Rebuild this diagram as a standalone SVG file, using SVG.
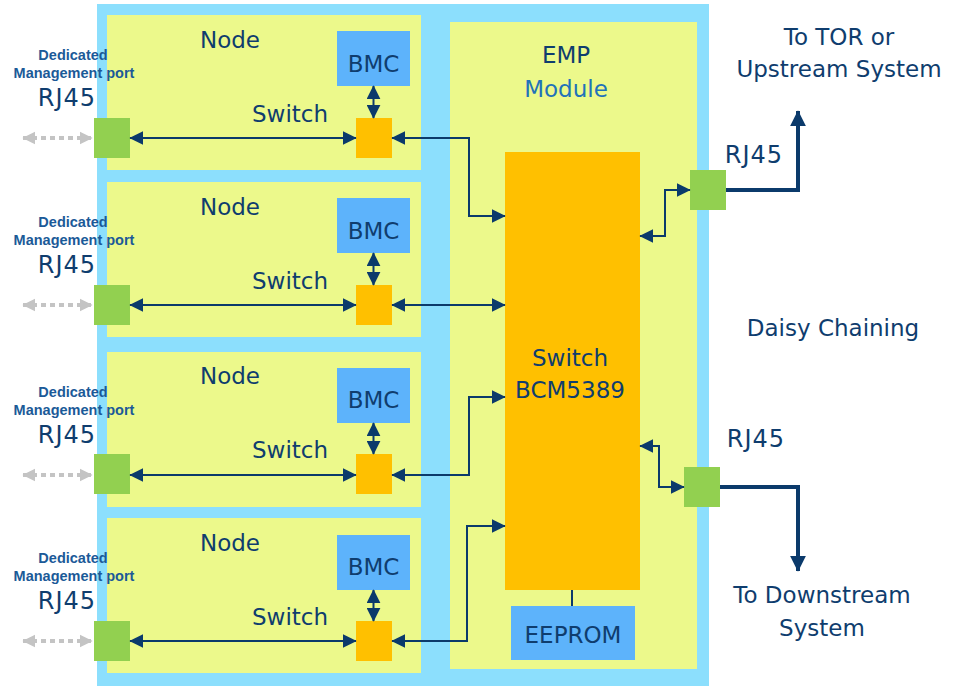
<svg xmlns="http://www.w3.org/2000/svg" width="953" height="687" viewBox="0 0 953 687">
<style>
.t{font-family:"DejaVu Sans","Noto Sans",sans-serif;font-size:23px;fill:#0F3D6E;text-anchor:middle}
.rjl{font-size:24px;letter-spacing:1px}
.ded{font-family:"Liberation Sans",Arial,sans-serif;font-size:14.5px;font-weight:bold;fill:#1B5A98;text-anchor:middle}
.mod{fill:#2272B9}
.outer{fill:#8CDFFD}
.yel{fill:#ECF98B}
.bmc{fill:#5DB3FB}
.sw{fill:#FFC000}
.rj{fill:#92D050}
.c{fill:none;stroke:#0B3A6B;stroke-width:2;marker-start:url(#ah);marker-end:url(#ah)}
.thick{fill:none;stroke:#0B3A6B;stroke-width:4;marker-end:url(#aht)}
.grey{fill:none;stroke:#C4C4C4;stroke-width:4;stroke-dasharray:5 4;marker-start:url(#ahg);marker-end:url(#ahg)}
</style>
<defs>
<marker id="ah" viewBox="0 0 10 10" refX="9.5" refY="5" markerWidth="14" markerHeight="14" markerUnits="userSpaceOnUse" orient="auto-start-reverse"><path d="M0,0 L10,5 L0,10 z" fill="#0B3A6B"/></marker>
<marker id="aht" viewBox="0 0 10 10" refX="9.5" refY="5" markerWidth="16" markerHeight="17" markerUnits="userSpaceOnUse" orient="auto-start-reverse"><path d="M0,0 L10,5 L0,10 z" fill="#0B3A6B"/></marker>
<marker id="ahg" viewBox="0 0 10 10" refX="9.5" refY="5" markerWidth="13" markerHeight="16" markerUnits="userSpaceOnUse" orient="auto-start-reverse"><path d="M0,0 L10,5 L0,10 z" fill="#C4C4C4"/></marker>
</defs>

<rect id="chassis" class="outer" x="97" y="4" width="612" height="682"/>

<g id="node1">
<rect class="yel" x="107" y="15" width="314" height="155"/>
<text class="t" x="230" y="48">Node</text>
<rect class="bmc" x="337" y="31" width="73" height="55"/>
<text class="t" x="373.5" y="72">BMC</text>
<text class="t" x="290" y="122">Switch</text>
<rect class="sw" x="356" y="118" width="36" height="40"/>
<rect class="rj" x="94" y="118" width="36" height="40"/>
<text class="ded" x="73" y="60">Dedicated</text>
<text class="ded" x="74" y="78">Management port</text>
<text class="t rjl" x="67" y="106">RJ45</text>
</g>

<g id="node2">
<rect class="yel" x="107" y="182" width="314" height="155"/>
<text class="t" x="230" y="215">Node</text>
<rect class="bmc" x="337" y="198" width="73" height="55"/>
<text class="t" x="373.5" y="239">BMC</text>
<text class="t" x="290" y="289">Switch</text>
<rect class="sw" x="356" y="285" width="36" height="40"/>
<rect class="rj" x="94" y="285" width="36" height="40"/>
<text class="ded" x="73" y="227">Dedicated</text>
<text class="ded" x="74" y="245">Management port</text>
<text class="t rjl" x="67" y="273">RJ45</text>
</g>

<g id="node3">
<rect class="yel" x="107" y="352" width="314" height="155"/>
<text class="t" x="230" y="384">Node</text>
<rect class="bmc" x="337" y="368" width="73" height="55"/>
<text class="t" x="373.5" y="408">BMC</text>
<text class="t" x="290" y="458">Switch</text>
<rect class="sw" x="356" y="454" width="36" height="40"/>
<rect class="rj" x="94" y="454" width="36" height="40"/>
<text class="ded" x="73" y="397">Dedicated</text>
<text class="ded" x="74" y="415">Management port</text>
<text class="t rjl" x="67" y="443">RJ45</text>
</g>

<g id="node4">
<rect class="yel" x="107" y="518" width="314" height="155"/>
<text class="t" x="230" y="551">Node</text>
<rect class="bmc" x="337" y="535" width="73" height="55"/>
<text class="t" x="373.5" y="575">BMC</text>
<text class="t" x="290" y="625">Switch</text>
<rect class="sw" x="356" y="621" width="36" height="40"/>
<rect class="rj" x="94" y="621" width="36" height="40"/>
<text class="ded" x="73" y="563">Dedicated</text>
<text class="ded" x="74" y="581">Management port</text>
<text class="t rjl" x="67" y="609">RJ45</text>
</g>

<g id="emp">
<rect class="yel" x="450" y="22" width="247" height="647"/>
<text class="t" x="566" y="63">EMP</text>
<text class="t mod" x="566" y="97">Module</text>
</g>

<g id="bcm5389">
<rect class="sw" x="505" y="152" width="135" height="438"/>
<text class="t" x="570" y="366">Switch</text>
<text class="t" x="570" y="398">BCM5389</text>
</g>

<g id="eeprom">
<rect class="bmc" x="511" y="606" width="124" height="54"/>
<text class="t" x="573" y="643">EEPROM</text>
</g>

<g id="rj45-up">
<rect class="rj" x="690" y="170" width="36" height="40"/>
<text class="t rjl" x="754" y="163">RJ45</text>
</g>

<g id="rj45-down">
<rect class="rj" x="684" y="467" width="36" height="40"/>
<text class="t rjl" x="756" y="447">RJ45</text>
</g>

<g id="labels">
<text class="t" x="839" y="45">To TOR or</text>
<text class="t" x="839" y="77">Upstream System</text>
<text class="t" x="833" y="336">Daisy Chaining</text>
<text class="t" x="822" y="603">To Downstream</text>
<text class="t" x="822" y="636">System</text>
</g>

<g id="connectors">
<path class="grey" d="M23,138 H92"/>
<path class="grey" d="M23,305 H92"/>
<path class="grey" d="M23,475 H92"/>
<path class="grey" d="M23,641 H92"/>
<path class="c" d="M373.5,86 V118"/>
<path class="c" d="M373.5,253 V285"/>
<path class="c" d="M373.5,423 V454"/>
<path class="c" d="M373.5,590 V621"/>
<path class="c" d="M130,138 H356"/>
<path class="c" d="M130,305 H356"/>
<path class="c" d="M130,475 H356"/>
<path class="c" d="M130,641 H356"/>
<path class="c" d="M392,138 H469 V216 H505"/>
<path class="c" d="M392,305 H505"/>
<path class="c" d="M392,475 H469 V397 H505"/>
<path class="c" d="M392,641 H467 V526 H505"/>
<path class="c" d="M640,236 H665 V190 H690"/>
<path class="c" d="M640,446 H659 V487 H684"/>
<path fill="none" stroke="#0B3A6B" stroke-width="2" d="M572,590 V606"/>
<path class="thick" d="M726,190 H798 V111"/>
<path class="thick" d="M720,487 H798 V571"/>
</g>
</svg>
